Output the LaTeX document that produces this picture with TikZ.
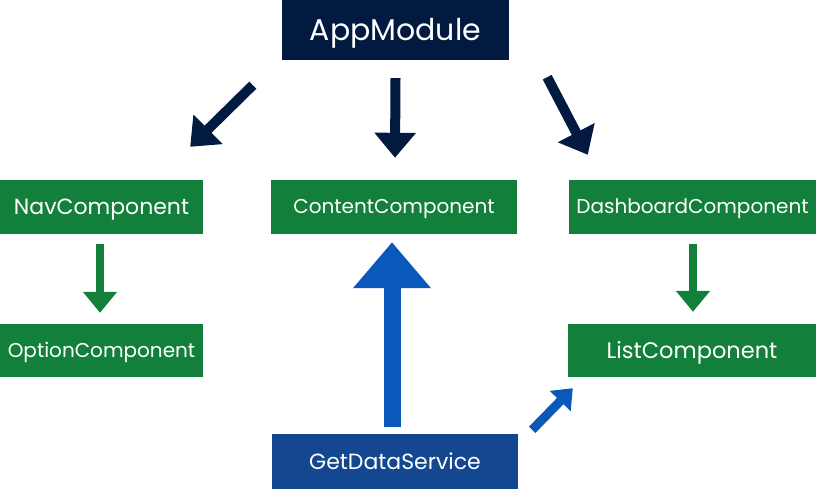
\documentclass[tikz,border=0pt]{standalone}
\usepackage{fontspec}
\setmainfont{Poppins}
\usetikzlibrary{arrows.meta,calc}
\definecolor{appnavy}{HTML}{021A40}
\definecolor{compgreen}{HTML}{12803A}
\definecolor{servblue}{HTML}{13478F}
\definecolor{arrowblue}{HTML}{0B58BB}
\tikzset{
  txt/.style={font=\fontsize{#1}{#1}\selectfont, text height=\dimexpr #1pt*7/10\relax, text depth=0pt},
  box/.style={inner sep=0pt, text=white, minimum height=54pt},
  comp/.style={box, fill=compgreen, txt=20},
  navyarrow/.style={appnavy, line width=10pt, -{Triangle[length=25pt, width=40pt]}},
  greenarrow/.style={compgreen, line width=8pt, -{Triangle[length=21pt, width=33pt]}},
}
\begin{document}
\begin{tikzpicture}[x=1pt, y=-1pt]
\useasboundingbox (0,0) rectangle (816,489);

\node[box, fill=appnavy, minimum width=227pt, minimum height=60pt, txt=30] (app) at (395.5,30) {AppModule};

\node[comp, minimum width=203pt, txt=22] (nav) at (101.5,207) {NavComponent};
\node[comp, minimum width=246pt] (content) at (394,207) {ContentComponent};
\node[comp, minimum width=247pt] (dash) at (692.5,207) {DashboardComponent};
\node[comp, minimum width=203pt, minimum height=53pt] (option) at (101.5,350.5) {OptionComponent};
\node[comp, minimum width=248pt, minimum height=53pt, txt=22.5] (list) at (692,350.5) {ListComponent};
\node[box, fill=servblue, minimum width=246pt, minimum height=55pt, txt=22] (getdata) at (395,461.5) {GetDataService};

% AppModule imports
\draw[navyarrow] ($(app.south west)+(-29,25)$) -- ($(nav.north east)+(-13,-33)$);
\draw[navyarrow] ($(app.south)+(0,18)$) -- ($(content.north)+(1,-22)$);
\draw[navyarrow] ($(app.south east)+(38,17)$) -- ($(dash.north west)+(19,-25)$);

\draw[greenarrow] ($(nav.south)+(-1.5,10)$) -- ($(option.north)+(-1.5,-11)$);
\draw[greenarrow] ($(dash.south)+(0.5,10)$) -- ($(list.north)+(1,-12)$);

% service injection
\draw[arrowblue, line width=17pt, -{Triangle[length=46pt, width=75pt]}] ($(getdata.north)+(-3,-7)$) -- ($(content.south)+(-2,8)$);
\draw[arrowblue, line width=9pt, -{Triangle[length=18pt, width=28pt]}] ($(getdata.north east)+(14,-4)$) -- ($(list.south west)+(5,11)$);
\end{tikzpicture}
\end{document}
